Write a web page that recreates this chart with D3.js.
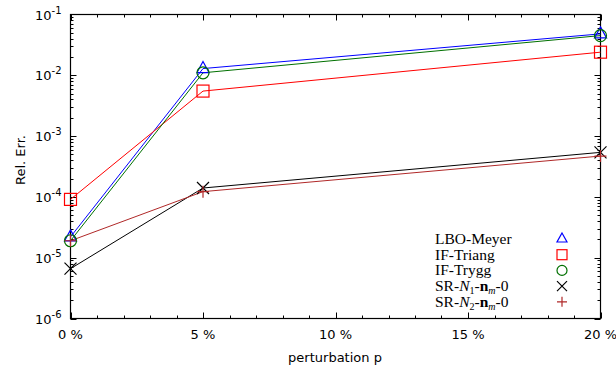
<!DOCTYPE html>
<html><head><meta charset="utf-8">
<script src="https://cdn.jsdelivr.net/npm/d3@7"></script>
<style>body{margin:0;background:#fff}svg{display:block}</style>
</head><body><svg id="c" width="616" height="370"></svg>
<script>
const pert = [0, 5, 20];
const lboMeyer = [2.2e-5, 1.29e-2, 4.8e-2];
const ifTriang = [9.1e-5, 5.5e-3, 2.4e-2];
const ifTrygg = [1.9e-5, 1.1e-2, 4.5e-2];
const srN1 = [6.6e-6, 1.4e-4, 5.4e-4];
const srN2 = [1.9e-5, 1.22e-4, 4.7e-4];
const xTicks = [0, 5, 10, 15, 20];
const yExps = [-1, -2, -3, -4, -5, -6];

const series = [
  {name:"LBO-Meyer", vals:lboMeyer, color:"#0000ff", mk:"tri"},
  {name:"IF-Triang", vals:ifTriang, color:"#ff0000", mk:"sq"},
  {name:"IF-Trygg", vals:ifTrygg, color:"#007000", mk:"circ"},
  {name:"SR-N1", vals:srN1, color:"#000000", mk:"x"},
  {name:"SR-N2", vals:srN2, color:"#b02828", mk:"plus"}
];

const L=70.5, R=600.5, T=14.5, B=318.5;
const svg = d3.select("#c");
const x = d3.scaleLinear().domain([0,20]).range([L,R]);
const y = d3.scaleLog().domain([1e-6,1e-1]).range([B,T]);
const sans = "DejaVu Sans";

svg.append("rect").attr("x",L).attr("y",T).attr("width",R-L).attr("height",B-T)
  .attr("fill","none").attr("stroke","#000").attr("stroke-width",1.2);

const g = svg.append("g").attr("stroke","#000").attr("stroke-width",1);
for (let v=0; v<=20; v++) {
  const len = v%5===0 ? 6 : 3;
  const px = Math.round(x(v))+0.5;
  g.append("line").attr("x1",px).attr("x2",px).attr("y1",B).attr("y2",B-len);
  g.append("line").attr("x1",px).attr("x2",px).attr("y1",T).attr("y2",T+len);
}
for (let e=-6; e<-1; e++) {
  for (let m=1; m<10; m++) {
    const v = m*Math.pow(10,e);
    const len = m===1 ? 6 : 3;
    const py = Math.round(y(v))+0.5;
    g.append("line").attr("x1",L).attr("x2",L+len).attr("y1",py).attr("y2",py);
    g.append("line").attr("x1",R).attr("x2",R-len).attr("y1",py).attr("y2",py);
  }
}

svg.append("g").selectAll("text").data(xTicks).join("text")
  .attr("x",d=>x(d)).attr("y",339).attr("text-anchor","middle")
  .attr("font-family",sans).attr("font-size",13).text(d=>d+" %");

const yl = svg.append("g").selectAll("text").data(yExps).join("text")
  .attr("x",35).attr("y",d=>y(Math.pow(10,d))+5)
  .attr("font-family",sans).attr("font-size",13);
yl.append("tspan").text("10");
yl.append("tspan").attr("dy",-6).attr("font-size",10).text(d=>"-"+(-d));

svg.append("text").attr("x",335).attr("y",362).attr("text-anchor","middle")
  .attr("font-family",sans).attr("font-size",13).text("perturbation p");
svg.append("text").attr("transform","translate(25,160) rotate(-90)").attr("text-anchor","middle")
  .attr("font-family",sans).attr("font-size",13).text("Rel. Err.");

const line = d3.line().x((d,i)=>x(pert[i])).y(d=>y(d));
series.forEach(s=>{
  svg.append("path").attr("d",line(s.vals)).attr("fill","none")
    .attr("stroke",s.color).attr("stroke-width",1);
});

function marker(gp, mk, color, cx, cy, s) {
  if (mk==="tri") gp.append("path").attr("d",`M${cx},${cy-s-1}L${cx+s},${cy+s-2}L${cx-s},${cy+s-2}Z`).attr("fill","none").attr("stroke",color).attr("stroke-width",1.2);
  if (mk==="sq") gp.append("rect").attr("x",cx-s).attr("y",cy-s).attr("width",2*s).attr("height",2*s).attr("fill","none").attr("stroke",color).attr("stroke-width",1.2);
  if (mk==="circ") gp.append("circle").attr("cx",cx).attr("cy",cy).attr("r",s).attr("fill","none").attr("stroke",color).attr("stroke-width",1.2);
  if (mk==="x") gp.append("path").attr("d",`M${cx-s},${cy-s}L${cx+s},${cy+s}M${cx-s},${cy+s}L${cx+s},${cy-s}`).attr("stroke",color).attr("stroke-width",1.2);
  if (mk==="plus") gp.append("path").attr("d",`M${cx-s},${cy}L${cx+s},${cy}M${cx},${cy-s}L${cx},${cy+s}`).attr("stroke",color).attr("stroke-width",1.2);
}
series.forEach(s=>{
  const gp = svg.append("g");
  s.vals.forEach((v,i)=>marker(gp, s.mk, s.color, x(pert[i]), y(v), 6));
});

const serif = "Liberation Serif";
const ly0 = 244, ldy = 15.7;
series.forEach((s,i)=>{
  const t = svg.append("text").attr("x",435).attr("y",ly0+i*ldy)
    .attr("font-family",serif).attr("font-size",15.5);
  if (i<3) t.text(s.name);
  else {
    t.append("tspan").text("SR-");
    t.append("tspan").attr("font-style","italic").text("N");
    t.append("tspan").attr("font-size",10).attr("dy",3).text(i===3?"1":"2");
    t.append("tspan").attr("dy",-3).text("-");
    t.append("tspan").attr("font-weight","bold").text("n");
    t.append("tspan").attr("font-size",10).attr("font-style","italic").attr("dy",3).text("m");
    t.append("tspan").attr("dy",-3).text("-0");
  }
  marker(svg.append("g"), s.mk, s.color, 562, ly0+i*ldy-5, 5);
});
</script></body></html>
